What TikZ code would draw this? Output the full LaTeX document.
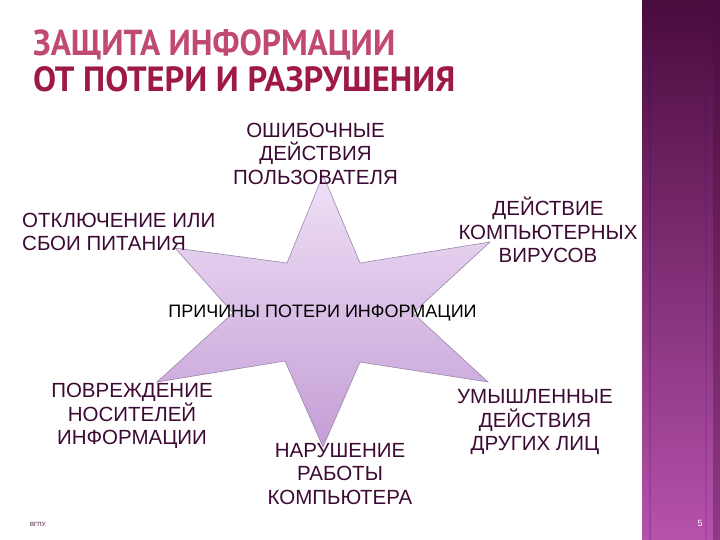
\documentclass[tikz,border=0pt]{standalone}
\usepackage{fontspec}
\setmainfont{Liberation Sans}
\newfontfamily\titlefont{PT Sans}
\usetikzlibrary{calc}
\definecolor{lbl}{HTML}{3D0A33}
\definecolor{tone}{HTML}{C04A70}
\definecolor{ttwo}{HTML}{9E1A44}
\definecolor{startop}{HTML}{EFE0F6}
\definecolor{starbot}{HTML}{C49ED6}
\definecolor{starline}{HTML}{9C86AA}
\definecolor{bartop}{HTML}{4A0B3D}
\definecolor{barbot}{HTML}{B652AC}
\tikzset{
  lab/.style={text=lbl, align=center, inner sep=0pt, font=\fontsize{20.5}{23.5}\selectfont},
  titletext/.style={inner sep=0pt, anchor=base west, font=\titlefont\bfseries}
}
\begin{document}
\begin{tikzpicture}[x=1pt,y=-1pt]
\useasboundingbox (0,0) rectangle (720,540);
\fill[white] (0,0) rectangle (720,540);
% right bar
\shade[top color=bartop, bottom color=barbot] (642,0) rectangle (720,540);
\fill[bartop, opacity=0.35] (713,0) rectangle (720,540);
\draw[blue!40!bartop, opacity=0.18, line width=2pt] (650,0) -- (650,540);
\draw[blue!40!bartop, opacity=0.12, line width=1.5pt] (706,0) -- (706,540);
% title
\node[titletext, text=tone] (t1) at (33,56) {\resizebox{362pt}{26pt}{ЗАЩИТА ИНФОРМАЦИИ}};
\node[titletext, text=ttwo] (t2) at (33,92) {\resizebox{422pt}{25pt}{ОТ ПОТЕРИ И РАЗРУШЕНИЯ}};
% star
\shade[top color=startop, bottom color=starbot, draw=starline, line width=0.6pt]
  (323,175) -- (360,263) -- (490,242) -- (413,313) -- (488,382) -- (360,362)
  -- (323,447) -- (285,361) -- (157,382) -- (233,313) -- (175,248) -- (287,263) -- cycle;
% labels
\node[lab] (top) at (315.5,153.5) {ОШИБОЧНЫЕ\\ДЕЙСТВИЯ\\ПОЛЬЗОВАТЕЛЯ};
\node[lab, align=left, anchor=west] (lft) at (22,232) {ОТКЛЮЧЕНИЕ ИЛИ\\СБОИ ПИТАНИЯ};
\node[lab] (ur) at (548,230) {ДЕЙСТВИЕ\\КОМПЬЮТЕРНЫХ\\ВИРУСОВ};
\node[lab, text=black, font=\fontsize{18}{22}\selectfont] (mid) at (322.5,313.5) {ПРИЧИНЫ ПОТЕРИ ИНФОРМАЦИИ};
\node[lab] (ll) at (132,416) {ПОВРЕЖДЕНИЕ\\НОСИТЕЛЕЙ\\ИНФОРМАЦИИ};
\node[lab] (bot) at (340,474) {НАРУШЕНИЕ\\РАБОТЫ\\КОМПЬЮТЕРА};
\node[lab] (lr) at (535,422) {УМЫШЛЕННЫЕ\\ДЕЙСТВИЯ\\ДРУГИХ ЛИЦ};
% footer
\node[inner sep=0pt, text=lbl, font=\fontsize{6}{7}\selectfont, anchor=west] (foot) at (30,524) {ВГПУ};
\node[inner sep=0pt, text=white, font=\fontsize{9}{10}\selectfont] (num) at (700,523) {5};
\end{tikzpicture}
\end{document}
